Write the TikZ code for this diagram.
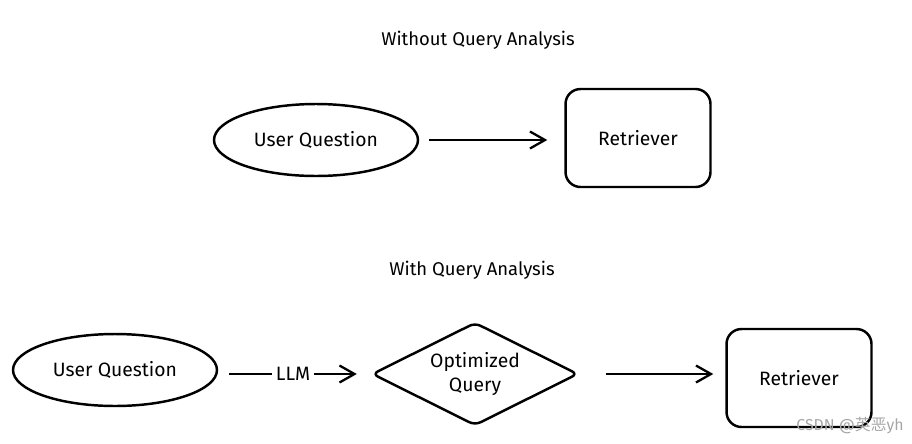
\documentclass[tikz,border=0pt]{standalone}
\usepackage{fontspec}
\setmainfont{Fira Sans}
\newfontfamily\cjk{Noto Sans CJK SC}
\usetikzlibrary{arrows.meta, positioning, shapes.geometric}

\begin{document}
\begin{tikzpicture}[x=0.02cm, y=-0.02cm, line width=1.4pt,
    >={Straight Barb[length=0.3cm, width=0.34cm, line width=1.3pt]},
    font=\fontsize{11}{13.5}\selectfont,
    userq/.style={ellipse, draw, minimum width=4.08cm, minimum height=1.44cm},
    retr/.style={rectangle, draw, rounded corners=0.3cm, minimum width=2.9cm, minimum height=1.96cm},
    optq/.style={diamond, draw, aspect=2, inner sep=0pt, rounded corners=0.12cm, minimum width=4.12cm, minimum height=2.06cm, align=center},
    heading/.style={font=\fontsize{10.5}{13}\selectfont}]
    \useasboundingbox (0,0) rectangle (912,443);

    % without query analysis
    \node[heading] (t1) at (478,40) {Without Query Analysis};
    \node[userq] (q1) at (316,140) {User Question};
    \node[retr] (r1) at (638,138) {Retriever};
    \draw[->] ([xshift=0.2cm]q1.east) -- ([xshift=-0.34cm]q1.east -| r1.west);

    % with query analysis
    \node[heading] (t2) at (472,270) {With Query Analysis};
    \node[userq] (q2) at (115,370) {User Question};
    \node[optq] (o2) at (475,374) {Optimized\\Query};
    \node[retr] (r2) at (799,378) {Retriever};
    \draw[->] ([xshift=0.22cm]o2.west -| q2.east) -- node[fill=white, inner sep=2pt] {LLM} ([xshift=-0.28cm]o2.west);
    \draw[->] ([xshift=0.54cm]o2.east) -- ([xshift=-0.24cm]o2.east -| r2.west);

    \node[text=gray!70, font=\fontsize{9}{10}\selectfont] (wm) at (850,426) {CSDN @{\cjk 英恶}yh};
\end{tikzpicture}
\end{document}
